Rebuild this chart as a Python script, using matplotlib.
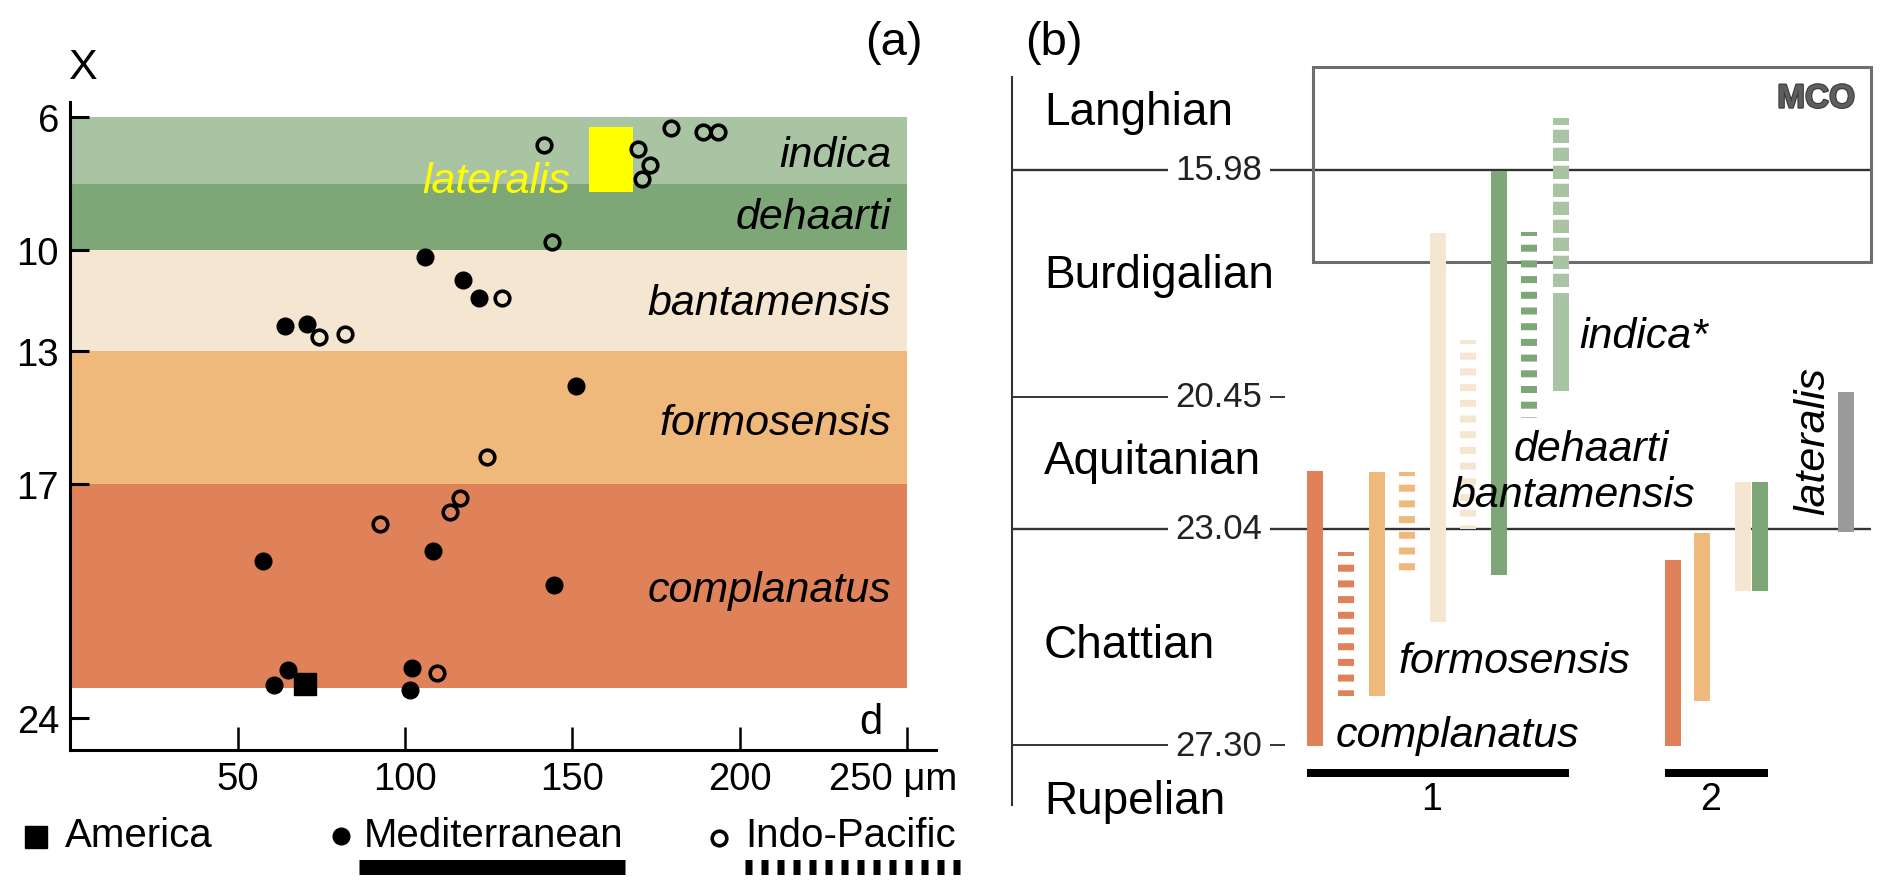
import matplotlib
matplotlib.use('Agg')
import matplotlib.pyplot as plt
from matplotlib.lines import Line2D
from matplotlib.patches import Rectangle
import matplotlib.patheffects as pe

plt.rcParams['font.family'] = ['Liberation Sans', 'DejaVu Sans']
plt.rcParams['lines.scale_dashes'] = False

W, H, DPI = 1892, 895, 100
PX = 72.0 / DPI  # points per pixel

# ---------------- data: panel (a) ----------------
band_names = ['indica', 'dehaarti', 'bantamensis', 'formosensis', 'complanatus']
band_top = [6, 8, 10, 13, 17]
band_bottom = [8, 10, 13, 17, 23.1]
band_colors = ['#a9c4a3', '#7ea777', '#f4e6d0', '#f0b97c', '#e08259']
band_label_X = [7.47, 9.34, 11.9, 15.49, 20.48]   # baseline of band labels

america_d = [70.1]
america_X = [22.97]
med_d = [105.9, 117.2, 122.0, 64.3, 70.6, 151.0, 108.3, 57.6, 144.5, 65.0, 61.0, 102.1, 101.6]
med_X = [10.19, 10.88, 11.42, 12.25, 12.2, 14.05, 19.0, 19.3, 20.0, 22.55, 23.0, 22.5, 23.15]
indo_d = [141.6, 179.4, 189.0, 193.5, 169.6, 173.1, 170.9, 143.8, 129.1, 74.4, 82.0,
          124.6, 116.4, 113.4, 92.4, 109.6]
indo_X = [6.84, 6.35, 6.47, 6.47, 6.97, 7.44, 7.86, 9.74, 11.42, 12.6, 12.5,
          16.19, 17.42, 17.84, 18.2, 22.65]
lateralis_d = [155.0, 168.1]
lateralis_X = [6.3, 8.26]

xticks = [50, 100, 150, 200, 250]
xtick_labels = ['50', '100', '150', '200', '']
yticks = [6, 10, 13, 17, 24]

# ---------------- data: panel (b) ----------------
stages = ['Langhian', 'Burdigalian', 'Aquitanian', 'Chattian', 'Rupelian']
stage_label_age = [15.08, 18.29, 21.95, 25.56, 28.64]
boundaries = [15.98, 20.45, 23.04, 27.30]
boundary_full = [True, False, True, False]
mco_age = [13.95, 17.80]

r_species = ['complanatus', 'complanatus', 'formosensis', 'formosensis', 'bantamensis',
             'bantamensis', 'dehaarti', 'dehaarti', 'indica', 'indica',
             'complanatus', 'formosensis', 'bantamensis', 'dehaarti', 'lateralis']
r_group = [1, 1, 1, 1, 1, 1, 1, 1, 1, 1, 2, 2, 2, 2, 0]
r_style = ['solid', 'dashed', 'solid', 'dashed', 'solid', 'dashed', 'solid', 'dashed',
           'longdash', 'solid', 'solid', 'solid', 'solid', 'solid', 'solid']
r_top = [21.91, 23.50, 21.93, 21.93, 17.23, 19.33, 16.00, 17.21, 14.97, 18.41,
         23.66, 23.12, 22.12, 22.12, 20.35]
r_bottom = [27.32, 26.33, 26.33, 23.91, 24.88, 23.05, 23.96, 20.87, 18.33, 20.33,
            27.32, 26.43, 24.27, 24.27, 23.11]

label_names = ['indica*', 'dehaarti', 'bantamensis', 'formosensis', 'complanatus']
label_age = [19.47, 21.69, 22.60, 25.87, 27.31]

species_colors = {'indica': '#a9c4a3', 'dehaarti': '#7ea777', 'bantamensis': '#f4e6d0',
                  'formosensis': '#f0b97c', 'complanatus': '#e08259', 'lateralis': '#9a9a9a'}

# layout (pixel offsets from panel-b axis)
slots = [303, 333.7, 364.5, 395, 425.5, 456, 486.7, 517, 549, 549,
         661, 689.5, 731, 748, 834]
label_x = [567, 502, 439, 387, 324]

fig = plt.figure(figsize=(W / DPI, H / DPI), dpi=DPI)


def fx(x):
    return x / W


def fy(y):
    return 1 - y / H


# ================= panel (a) =================
axa = fig.add_axes([fx(70.2), fy(750.7), (936 - 70.2) / W, (750.7 - 103) / H])
axa.set_xlim(0, 258.6)
axa.set_ylim(24.94, 5.56)
axa.patch.set_alpha(0)
for s in ['top', 'right']:
    axa.spines[s].set_visible(False)
for s in ['left', 'bottom']:
    axa.spines[s].set_linewidth(2.2)

for name, t, b, c, ly in zip(band_names, band_top, band_bottom, band_colors, band_label_X):
    axa.barh((t + b) / 2, 250, height=b - t, left=0, color=c, linewidth=0, zorder=0)
    axa.text(245.2, ly, name, ha='right', va='baseline', style='italic', fontsize=31, zorder=5)

axa.add_patch(Rectangle((lateralis_d[0], lateralis_X[0]), lateralis_d[1] - lateralis_d[0],
                        lateralis_X[1] - lateralis_X[0], color='#ffff00', linewidth=0, zorder=1))
axa.text(149.3, lateralis_X[1], 'lateralis', ha='right', va='baseline', style='italic',
         fontsize=31, color='#ffff00', zorder=5)

axa.plot(med_d, med_X, 'o', ms=12, color='k', linestyle='none', zorder=3)
axa.plot(indo_d, indo_X, 'o', ms=10.5, mfc='none', mec='k', mew=2.6, linestyle='none', zorder=3)
axa.plot(america_d, america_X, 's', ms=16, color='k', linestyle='none', zorder=3)

axa.set_xticks(xticks)
axa.set_xticklabels(xtick_labels)
axa.set_yticks(yticks)
axa.tick_params(axis='x', direction='in', length=16.5, width=1.8, labelsize=27.5, pad=8)
axa.tick_params(axis='y', direction='in', length=13.7, width=2.2, labelsize=27.5, pad=8)
axa.annotate('250 μm', xy=(xticks[-1], 0), xycoords=('data', 'axes fraction'),
             xytext=(-14 * PX, -8), textcoords='offset points', ha='center', va='top',
             fontsize=27.5, annotation_clip=False)

fig.text(fx(82), fy(68), 'X', ha='center', va='center', fontsize=31)
fig.text(fx(871), fy(723), 'd', ha='center', va='center', fontsize=30)
fig.text(fx(894), fy(43), '(a)', ha='center', va='center', fontsize=34)
fig.text(fx(1054), fy(43), '(b)', ha='center', va='center', fontsize=34)

# legend of panel (a)
fig.add_artist(Line2D([fx(35.5)], [fy(838)], marker='s', ms=16, color='k', linestyle='none',
                      transform=fig.transFigure))
fig.add_artist(Line2D([fx(341)], [fy(837)], marker='o', ms=12, color='k', linestyle='none',
                      transform=fig.transFigure))
fig.add_artist(Line2D([fx(719)], [fy(839)], marker='o', ms=10.5, mfc='none', mec='k', mew=2.6,
                      linestyle='none', transform=fig.transFigure))
fig.text(fx(65), fy(847), 'America', fontsize=29, va='baseline')
fig.text(fx(364), fy(847), 'Mediterranean', fontsize=29, va='baseline')
fig.text(fx(745), fy(847), 'Indo-Pacific', fontsize=29, va='baseline')
fig.add_artist(Line2D([fx(359), fx(625)], [fy(867.5), fy(867.5)], lw=15 * PX, color='k',
                      solid_capstyle='butt', transform=fig.transFigure))
fig.add_artist(Line2D([fx(745), fx(960)], [fy(867.5), fy(867.5)], lw=15 * PX, color='k',
                      linestyle=(0, (7 * PX, 9 * PX)), dash_capstyle='butt',
                      transform=fig.transFigure))

# ================= panel (b) =================
axb = fig.add_axes([fx(1012), fy(806), (1880 - 1012) / W, (806 - 77.7) / H])
axb.set_xlim(0, 868)
axb.set_ylim(28.48, 14.15)
axb.patch.set_alpha(0)
for s in ['top', 'right', 'bottom']:
    axb.spines[s].set_visible(False)
axb.spines['left'].set_linewidth(1.5)
axb.spines['left'].set_color('#333333')
axb.set_xticks([])
axb.set_yticks([])

for age, full in zip(boundaries, boundary_full):
    xend = 859 if full else 273
    axb.plot([0, xend], [age, age], color='#333333', lw=1.7 if full else 1.4, zorder=1,
             clip_on=False, solid_capstyle='butt')
    axb.text(207, age, f'{age:.2f}', ha='center', va='center', fontsize=25, color='#222222',
             bbox=dict(fc='white', ec='none', pad=5.8), zorder=2)

axb.add_patch(Rectangle((301, mco_age[0]), 859 - 301, mco_age[1] - mco_age[0], fill=False,
                        ec='#6e6e6e', lw=2.2, clip_on=False, zorder=1.5))
axb.text(843, 14.59, 'MCO', ha='right', va='center', fontsize=24, fontweight='bold',
         color='#5e5e5e', zorder=3,
         path_effects=[pe.withStroke(linewidth=1.6, foreground='#3a3a3a')])

for sp, g, st, t, b, x in zip(r_species, r_group, r_style, r_top, r_bottom, slots):
    c = species_colors[sp]
    if st == 'solid':
        ls = '-'
    elif st == 'dashed':
        ls = (3 * PX, (7 * PX, 8.7 * PX))
    else:
        ls = (6.3 * PX, (13.3 * PX, 4.7 * PX))
    axb.plot([x, x], [t, b], color=c, lw=16 * PX, linestyle=ls, solid_capstyle='butt',
             dash_capstyle='butt', zorder=2.5, clip_on=False)

for g in [1, 2]:
    xs = [x for x, gg in zip(slots, r_group) if gg == g]
    x0, x1 = min(xs) - 8, max(xs) + 8
    axb.plot([x0, x1], [27.85, 27.85], color='k', lw=8 * PX, solid_capstyle='butt',
             clip_on=False, zorder=3)
    axb.text((x0 + x1) / 2 - 6, 28.56, str(g), ha='center', va='baseline', fontsize=27,
             zorder=3)

for name, a in zip(stages, stage_label_age):
    axb.text(32, a, name, ha='left', va='baseline', fontsize=33, zorder=3)

for name, x, a in zip(label_names, label_x, label_age):
    axb.text(x, a, name, ha='left', va='baseline', style='italic', fontsize=31, zorder=4)

axb.text(801, 21.30, 'lateralis', ha='center', va='center', rotation=90, style='italic',
         fontsize=31, zorder=4)

fig.savefig('out.png', dpi=DPI)
